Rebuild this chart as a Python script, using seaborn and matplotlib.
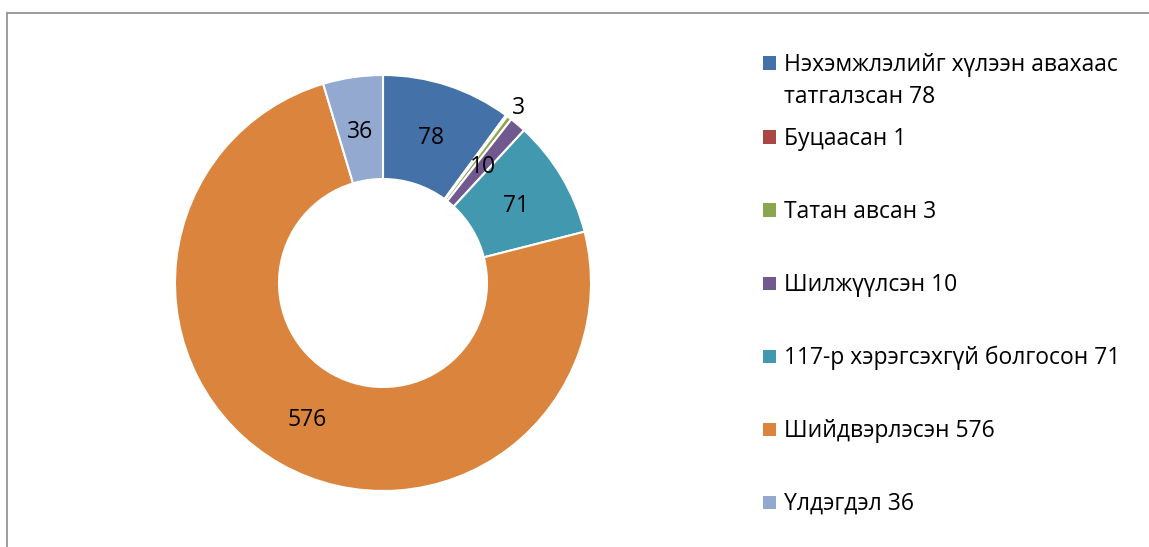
import matplotlib
matplotlib.use('Agg')
import matplotlib.pyplot as plt
import seaborn as sns
from matplotlib.patches import Rectangle
from matplotlib.lines import Line2D
import numpy as np

# Data
names = ['Нэхэмжлэлийг хүлээн авахаас татгалзсан', 'Буцаасан', 'Татан авсан',
         'Шилжүүлсэн', '117-р хэрэгсэхгүй болгосон', 'Шийдвэрлэсэн', 'Үлдэгдэл']
values = [78, 1, 3, 10, 71, 576, 36]
colors = ['#4472A8', '#AA4643', '#8AA64F', '#71588F', '#4198AF', '#DB843D', '#93A9CF']

sns.set_theme(style='white')
plt.rcParams['font.family'] = ['Open Sans', 'DejaVu Sans']

W, H = 1149, 547
fig = plt.figure(figsize=(W / 100, H / 100), dpi=100)
fig.patch.set_facecolor('white')

# Donut axes: centre (383, 283) px from top-left, radius 208 px
cx, cy, half = 383, 283, 210
ax = fig.add_axes([(cx - half) / W, (H - cy - half) / H, 2 * half / W, 2 * half / H])

palette = sns.color_palette(colors)
wedges, _ = ax.pie(values, colors=palette, startangle=90, counterclock=False,
                   radius=1.0, wedgeprops=dict(width=0.5, edgecolor='white', linewidth=1.5))
lim = half / 208
ax.set_xlim(-lim, lim)
ax.set_ylim(-lim, lim)
ax.set_aspect('equal')
ax.axis('off')

# Data labels at the middle of the ring (small slice '3' outside, '1' hidden)
for w, v in zip(wedges, values):
    if v == 1:
        continue
    ang = np.deg2rad((w.theta1 + w.theta2) / 2)
    r = 1.07 if v == 3 else 0.745
    ax.text(r * np.cos(ang), r * np.sin(ang) - 0.01, str(v), ha='center', va='center',
            fontsize=16.5, color='black')

# Legend drawn by hand to match the spacing of the original
leg_y = [63, 137, 210, 283, 356, 429, 502]
for name, v, c, y in zip(names, values, colors, leg_y):
    fig.patches.append(Rectangle(((763) / W, (H - y - 6.5) / H), 13 / W, 13 / H,
                                 transform=fig.transFigure, facecolor=c, edgecolor='none'))
    label = f'{name} {v}'
    if name.startswith('Нэхэмжлэлийг'):
        lines = ['Нэхэмжлэлийг хүлээн авахаас', f'татгалзсан {v}']
    else:
        lines = [label]
    for i, line in enumerate(lines):
        fig.text(784 / W, (H - y - 2 - 32 * i) / H, line, ha='left', va='center',
                 fontsize=16.5, color='black')

# Chart border (left and top edges visible)
fig.lines.append(Line2D([7 / W, 7 / W], [0, (H - 13) / H], transform=fig.transFigure,
                        color='#8c8c8c', linewidth=1.2))
fig.lines.append(Line2D([7 / W, 1], [(H - 13) / H, (H - 13) / H], transform=fig.transFigure,
                        color='#8c8c8c', linewidth=1.2))

fig.savefig('out.png', dpi=100, facecolor='white')
